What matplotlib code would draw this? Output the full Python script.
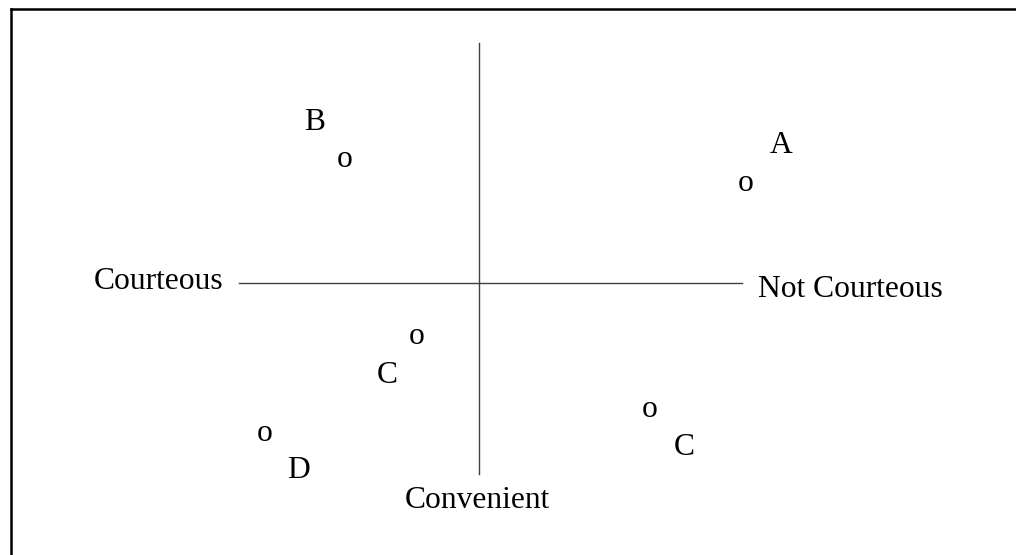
import matplotlib
matplotlib.use("Agg")
import matplotlib.pyplot as plt
from matplotlib.lines import Line2D

# perceptual map: x = courtesy (negative = courteous), y = convenience (positive = up)
brands = ["A", "B", "C", "C", "D"]
courtesy = [26.7, -13.4, -6.2, 17.1, -21.4]
convenience = [9.2, 11.6, -6.1, -13.4, -15.8]

axis_left, axis_right = "Courteous", "Not Courteous"
axis_bottom = "Convenient"

# where each letter sits relative to its "o" (pixels)
label_offsets = [(35, 38), (-30, 37), (-30, -39), (34, -38), (34, -37)]

plt.rcParams["font.family"] = ["Liberation Serif", "DejaVu Serif"]
fs = 22.7

fig = plt.figure(figsize=(10.16, 5.55), dpi=100)
ax = fig.add_axes([0, 0, 1, 1])
ax.set_xlim(-47.9, 53.7)
ax.set_ylim(-27.2, 28.3)
ax.axis("off")

# cross of the two dimensions
ax.plot([-24.0, 26.3], [0, 0], color="#404040", lw=1.0)
ax.plot([0, 0], [-19.1, 24.0], color="#404040", lw=1.0)

ax.text(-25.6, -0.6, axis_left, ha="right", va="baseline", fontsize=fs)
ax.text(27.9, -1.4, axis_right, ha="left", va="baseline", fontsize=fs)
ax.text(-0.15, -22.5, axis_bottom, ha="center", va="baseline", fontsize=fs)

for name, x, y, off in zip(brands, courtesy, convenience, label_offsets):
    ax.text(x, y, "o", ha="center", va="baseline", fontsize=fs)
    ax.annotate(name, (x, y), xytext=off, textcoords="offset pixels",
                ha="center", va="baseline", fontsize=fs)

# frame (only top and left visible in the crop)
fx, fy = 11 / 1016, 1 - 8.5 / 555
fig.add_artist(Line2D([fx, 1.01], [fy, fy], transform=fig.transFigure, color="black", lw=1.8))
fig.add_artist(Line2D([fx, fx], [fy, -0.01], transform=fig.transFigure, color="black", lw=1.8))

fig.savefig("out.png", dpi=100)
